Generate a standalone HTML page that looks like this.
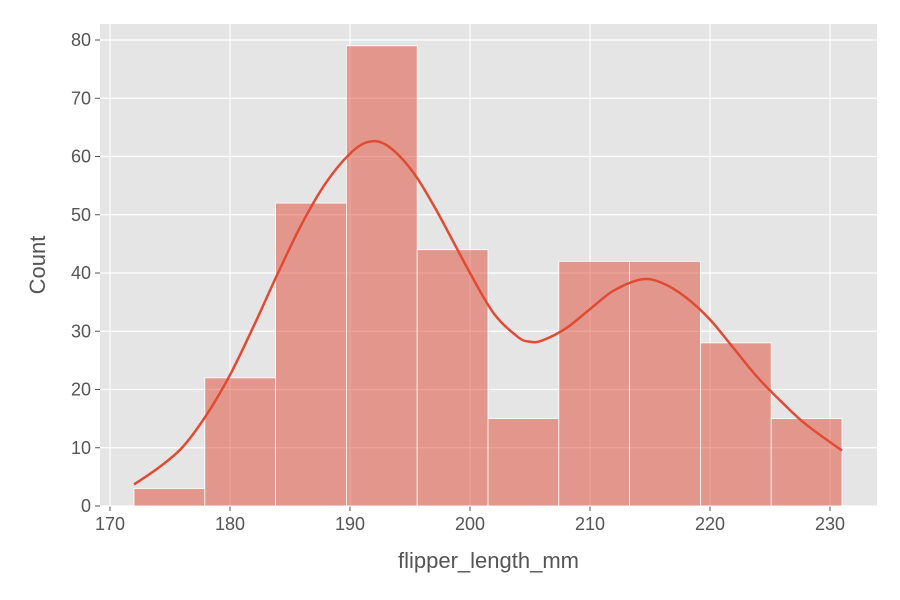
<!DOCTYPE html>
<html><head><meta charset="utf-8"><style>body{margin:0;background:#fff}svg{display:block}text{font-family:"Liberation Sans",sans-serif;fill:#555}</style></head>
<body>
<svg id="chart" width="900" height="600"></svg>
<script>
const binEdges=[172,177.9,183.8,189.7,195.6,201.5,207.4,213.3,219.2,225.1,231];
const counts=[3,22,52,79,44,15,42,42,28,15];
const kdeX=[172,174,176,178,180,182,184,186,188,190,191.5,193,195,197,200,202,204,205,206,208,210,212,214.3,216,218,220,222,224,226,228,231];
const kdeY=[3.7,6.5,10,15.5,22.5,31,40,48.5,55.5,60.5,62.5,62,58,51.5,40,33,29,28.2,28.4,30.5,33.8,37,38.9,38.3,35.8,32,27,22,17.8,14,9.5];
const xTicks=[170,180,190,200,210,220,230];
const yTicks=[0,10,20,30,40,50,60,70,80];
const NS="http://www.w3.org/2000/svg",svg=document.getElementById('chart');
const L=100,R=877,T=24,B=506;
const xs=v=>110+(v-170)*12, ys=v=>506-v*5.825;
function mk(t,a,p){const e=document.createElementNS(NS,t);for(const k in a)e.setAttribute(k,a[k]);(p||svg).appendChild(e);return e;}
const bg=mk('rect',{x:L,y:T,width:R-L,height:B-T,fill:'#e5e5e5'});


xTicks.forEach(v=>{const g=mk('line',{x1:xs(v),x2:xs(v),y1:T,y2:B,stroke:'#fff','stroke-width':1.2});


mk('line',{x1:xs(v),x2:xs(v),y1:B,y2:B+5,stroke:'#555'});
const t=mk('text',{x:xs(v),y:B+24,'text-anchor':'middle','font-size':18});t.textContent=v;

});
yTicks.forEach(v=>{const g=mk('line',{x1:L,x2:R,y1:ys(v),y2:ys(v),stroke:'#fff','stroke-width':1.2});


mk('line',{x1:L-5,x2:L,y1:ys(v),y2:ys(v),stroke:'#555'});
const t=mk('text',{x:L-9,y:ys(v)+6,'text-anchor':'end','font-size':18});t.textContent=v;

});
counts.forEach((c,i)=>{const r=mk('rect',{x:xs(binEdges[i]),y:ys(c),width:xs(binEdges[i+1])-xs(binEdges[i]),height:ys(0)-ys(c),fill:'#e24a33','fill-opacity':0.5,stroke:'#fff','stroke-width':0.8});

});
const P=kdeX.map((x,i)=>[xs(x),ys(kdeY[i])]);
let d='M'+P[0][0]+' '+P[0][1];
for(let i=0;i<P.length-1;i++){const p0=P[Math.max(i-1,0)],p1=P[i],p2=P[i+1],p3=P[Math.min(i+2,P.length-1)];
d+=`C${p1[0]+(p2[0]-p0[0])/6} ${p1[1]+(p2[1]-p0[1])/6} ${p2[0]-(p3[0]-p1[0])/6} ${p2[1]-(p3[1]-p1[1])/6} ${p2[0]} ${p2[1]}`;}
const p=mk('path',{d:d,fill:'none',stroke:'#e24a33','stroke-width':2.5,'stroke-linejoin':'round'});


const xl=mk('text',{x:(L+R)/2,y:568,'text-anchor':'middle','font-size':22});xl.textContent='flipper_length_mm';


const yl=mk('text',{x:45,y:265,'text-anchor':'middle','font-size':22,transform:'rotate(-90 45 265)'});yl.textContent='Count';


</script>
</body></html>
